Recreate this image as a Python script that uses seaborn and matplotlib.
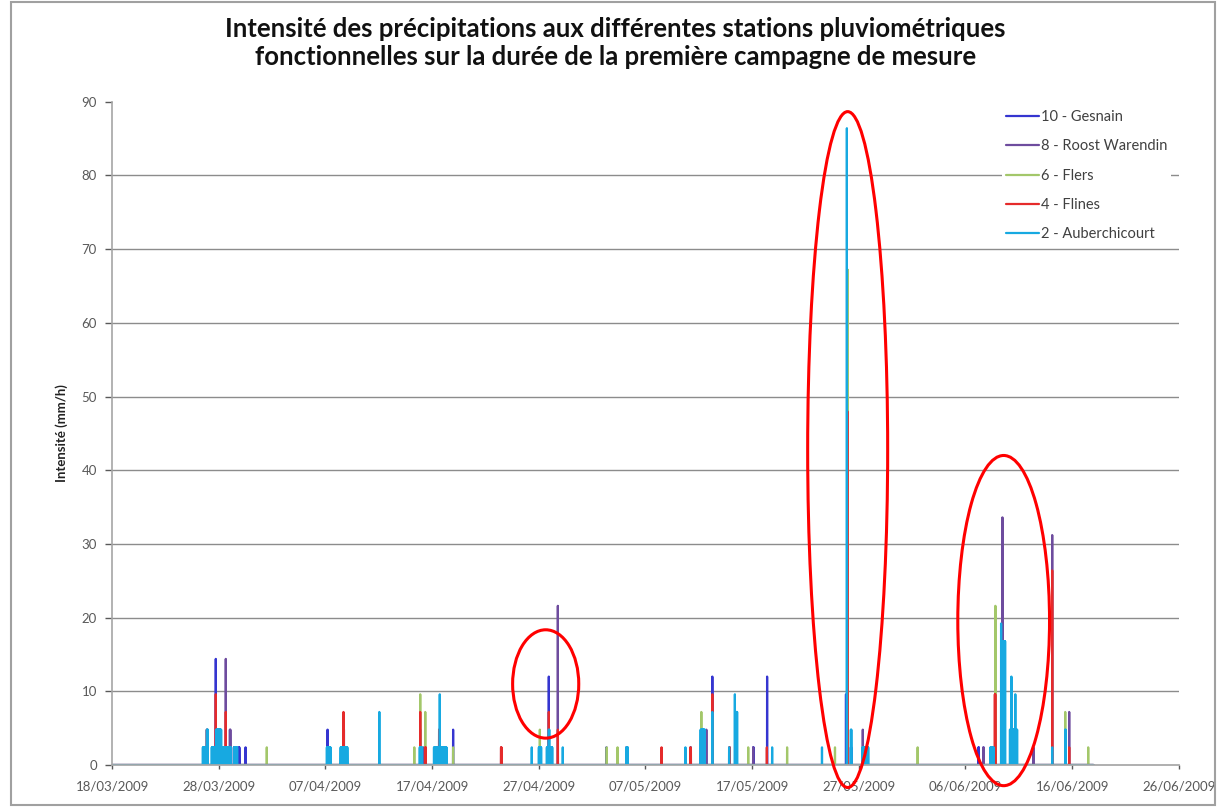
import numpy as np
import pandas as pd
import matplotlib
matplotlib.use("Agg")
import matplotlib.pyplot as plt
import matplotlib.dates as mdates
from matplotlib.patches import Ellipse, Rectangle
from matplotlib.lines import Line2D
import seaborn as sns

# ---------------- data ----------------
stations = ["10 - Gesnain", "8 - Roost Warendin", "6 - Flers", "4 - Flines", "2 - Auberchicourt"]

gesnain_time = ["2009-03-26 14:00", "2009-03-27 17:00", "2009-03-29 10:00", "2009-03-29 21:00", "2009-03-30 12:00",
                "2009-04-07 04:30", "2009-04-08 16:00", "2009-04-15 21:00", "2009-04-17 15:30", "2009-04-18 23:00",
                "2009-04-27 22:20", "2009-05-03 08:00", "2009-05-05 05:00", "2009-05-12 08:00", "2009-05-13 06:15",
                "2009-05-17 02:10", "2009-05-18 09:30", "2009-05-25 19:00", "2009-05-26 06:00", "2009-05-27 12:00",
                "2009-06-07 05:00", "2009-06-07 16:20", "2009-06-08 10:00", "2009-06-10 10:00"]
gesnain_val = [2.4, 14.4, 2.4, 2.4, 2.4, 4.8, 2.4, 4.8, 4.8, 4.8, 12.0, 2.4, 2.4, 2.4, 12.0,
               2.4, 12.0, 9.6, 2.4, 2.4, 2.4, 2.4, 2.4, 4.8]
gesnain_dur = [2, 1, 2, 2, 1, 1, 1, 1, 1, 1, 1, 1, 2, 1, 1, 2, 1, 1, 2, 2, 2, 1, 1, 2]

roost_time = ["2009-03-26 21:00", "2009-03-28 15:30", "2009-03-29 00:45", "2009-03-29 10:00", "2009-04-07 08:00",
              "2009-04-08 16:20", "2009-04-16 04:00", "2009-04-17 12:00", "2009-04-23 11:00", "2009-04-28 18:40",
              "2009-05-05 05:00", "2009-05-11 05:00", "2009-05-12 16:50", "2009-05-14 20:30", "2009-05-17 02:10",
              "2009-05-25 22:30", "2009-05-27 08:50", "2009-06-07 16:20", "2009-06-09 11:00", "2009-06-12 08:40",
              "2009-06-14 03:00", "2009-06-15 17:15"]
roost_val = [4.8, 14.4, 4.8, 2.4, 2.4, 4.8, 2.4, 2.4, 2.4, 21.6, 2.4, 2.4, 4.8, 2.4, 2.4,
             38.4, 4.8, 2.4, 33.6, 2.4, 31.2, 7.2]
roost_dur = [1, 1, 2, 1, 1, 2, 1, 1, 1, 1, 1, 2, 1, 2, 1, 1, 1, 1, 1, 1, 1, 1]

flers_time = ["2009-03-28 20:00", "2009-04-01 11:45", "2009-04-15 07:40", "2009-04-15 21:00", "2009-04-16 08:20",
              "2009-04-18 23:00", "2009-04-27 02:10", "2009-05-03 08:40", "2009-05-04 09:00", "2009-05-12 05:30",
              "2009-05-16 15:00", "2009-05-20 06:30", "2009-05-24 18:15", "2009-05-25 23:00", "2009-06-01 12:15",
              "2009-06-08 19:10", "2009-06-15 08:20", "2009-06-17 12:00"]
flers_val = [2.4, 2.4, 2.4, 9.6, 7.2, 2.4, 4.8, 2.4, 2.4, 7.2, 2.4, 2.4, 2.4, 67.2, 2.4, 21.6, 7.2, 2.4]
flers_dur = [1] * 18

flines_time = ["2009-03-26 14:00", "2009-03-26 21:00", "2009-03-27 17:00", "2009-03-28 15:30", "2009-04-08 16:20",
               "2009-04-15 21:00", "2009-04-16 08:20", "2009-04-17 15:30", "2009-04-23 10:50", "2009-04-27 22:20",
               "2009-04-28 18:40", "2009-05-08 12:00", "2009-05-11 05:00", "2009-05-13 06:15", "2009-05-14 21:00",
               "2009-05-18 09:00", "2009-05-25 22:00", "2009-06-08 18:00", "2009-06-14 03:00", "2009-06-15 17:15"]
flines_val = [2.4, 4.8, 9.6, 7.2, 7.2, 7.2, 2.4, 4.8, 2.4, 7.2, 4.8, 2.4, 2.4, 9.6, 2.4, 2.4, 48.0, 9.6, 26.4, 2.4]
flines_dur = [1, 1, 1, 1, 1, 1, 2, 1, 2, 1, 1, 1, 1, 1, 1, 1, 1, 2, 1, 1]

auber_time = ["2009-03-26 12:00", "2009-03-26 21:00", "2009-03-27 08:00", "2009-03-27 18:00", "2009-03-28 08:00",
              "2009-03-29 10:00", "2009-04-07 03:00", "2009-04-08 10:00", "2009-04-12 01:00", "2009-04-15 20:00",
              "2009-04-17 04:00", "2009-04-17 17:00", "2009-04-17 19:00", "2009-04-26 08:00", "2009-04-27 00:00",
              "2009-04-27 18:00", "2009-04-27 22:20", "2009-04-28 01:00", "2009-04-29 05:45", "2009-05-05 05:00",
              "2009-05-10 17:45", "2009-05-12 04:00", "2009-05-13 06:15", "2009-05-14 20:00", "2009-05-15 09:00",
              "2009-05-15 11:00", "2009-05-18 20:50", "2009-05-23 13:00", "2009-05-25 21:00", "2009-05-26 06:00",
              "2009-05-27 08:00", "2009-06-08 08:00", "2009-06-09 08:00", "2009-06-09 10:00", "2009-06-10 04:00",
              "2009-06-10 07:10", "2009-06-10 09:00", "2009-06-10 16:00", "2009-06-10 18:00", "2009-06-14 03:00",
              "2009-06-15 08:20"]
auber_val = [2.4, 4.8, 2.4, 4.8, 2.4, 2.4, 2.4, 2.4, 7.2, 2.4,
             2.4, 9.6, 2.4, 2.4, 2.4, 2.4, 4.8, 2.4, 2.4, 2.4,
             2.4, 4.8, 7.2, 2.4, 9.6, 7.2, 2.4, 2.4, 86.4, 4.8,
             2.4, 2.4, 19.2, 16.8, 4.8, 12.0, 4.8, 9.6, 4.8, 2.4, 4.8]
auber_dur = [6, 3, 10, 12, 20, 8, 9, 16, 1, 6,
             12, 1, 14, 1, 6, 4, 2, 6, 1, 4,
             1, 10, 1, 1, 1, 4, 1, 1, 1, 2,
             14, 8, 1, 8, 3, 1, 6, 1, 3, 1, 2]

series_start = "2009-03-18 00:00"
series_end = "2009-06-18 00:00"

xtick_dates = ["2009-03-18", "2009-03-28", "2009-04-07", "2009-04-17", "2009-04-27", "2009-05-07",
               "2009-05-17", "2009-05-27", "2009-06-06", "2009-06-16", "2009-06-26"]
yticks = [0, 10, 20, 30, 40, 50, 60, 70, 80, 90]

title = ("Intensité des précipitations aux différentes stations pluviométriques\n"
         "fonctionnelles sur la durée de la première campagne de mesure")
ylabel = "Intensité (mm/h)"

# annotation ellipses (center date, center value, width days, height value)
ell_center_t = ["2009-04-27 15:30", "2009-05-25 23:00", "2009-06-09 14:00"]
ell_center_v = [11.0, 42.8, 19.6]
ell_width_d = [6.2, 7.5, 8.6]
ell_height_v = [14.7, 91.7, 44.8]

colors = ["#3535D0", "#6E4C9E", "#A3C76A", "#E52B2B", "#17A9E1"]

# ---------------- build tidy frame (hourly records) ----------------
raw = {
    stations[0]: (gesnain_time, gesnain_val, gesnain_dur),
    stations[1]: (roost_time, roost_val, roost_dur),
    stations[2]: (flers_time, flers_val, flers_dur),
    stations[3]: (flines_time, flines_val, flines_dur),
    stations[4]: (auber_time, auber_val, auber_dur),
}
step = pd.Timedelta(minutes=12)
hour = pd.Timedelta(hours=1)
rows = []
for st, (tt, vv, dd) in raw.items():
    ev = sorted(zip(pd.to_datetime(tt), vv, dd))
    rows.append((st, pd.Timestamp(series_start), 0.0))
    for t, v, d in ev:
        for k in range(int(d)):
            tk = t + k * hour
            rows.append((st, tk, 0.0))
            rows.append((st, tk + step, v))
            rows.append((st, tk + 2 * step, 0.0))
    rows.append((st, pd.Timestamp(series_end), 0.0))
df = pd.DataFrame(rows, columns=["station", "time", "value"])

# ---------------- plot ----------------
sns.set_theme(style="white")
plt.rcParams["font.family"] = ["Lato", "DejaVu Sans"]

fig = plt.figure(figsize=(12.19, 8.07), dpi=100)
ax = fig.add_axes([0.092, 0.052, 0.875, 0.822])

for y in yticks[1:-1]:
    ax.axhline(y, color="#8C8C8C", lw=1.0, zorder=0)

sns.lineplot(data=df, x="time", y="value", hue="station", hue_order=stations,
             palette=colors, estimator=None, sort=False, linewidth=1.6,
             legend=False, ax=ax, zorder=2)

ax.set_xlim(pd.Timestamp(xtick_dates[0]), pd.Timestamp(xtick_dates[-1]))
ax.set_ylim(0, 90)
ax.set_yticks(yticks)
ax.set_xticks(pd.to_datetime(xtick_dates))
ax.xaxis.set_major_formatter(mdates.DateFormatter("%d/%m/%Y"))
ax.tick_params(axis="both", labelsize=9.5, colors="#595959", length=5, width=1,
               direction="out", left=True, bottom=True)
ax.tick_params(axis="x", length=3, pad=8)
ax.tick_params(axis="y", pad=6)
ax.set_xlabel("")
ax.set_ylabel(ylabel, fontsize=9.5, fontweight="bold", color="#222222", labelpad=10)

for s in ["top", "right"]:
    ax.spines[s].set_visible(False)
ax.spines["left"].set_color("#A6A6A6")
ax.spines["bottom"].set_color("#A6A6A6")
ax.spines["left"].set_linewidth(1.2)

fig.text(0.505, 0.947, title, fontsize=18.5, fontweight="bold", color="#111111",
         ha="center", va="center", linespacing=1.2)

handles = [Line2D([0], [0], color=c, lw=1.6) for c in colors]
leg = ax.legend(handles, stations, loc="upper right", bbox_to_anchor=(1.0, 1.005),
                fontsize=10.5, frameon=True, handlelength=2.2, handletextpad=0.15,
                labelspacing=1.05, borderpad=0.3)
leg.get_frame().set_facecolor("white")
leg.get_frame().set_edgecolor("none")
leg.get_frame().set_alpha(1.0)
for t in leg.get_texts():
    t.set_color("#404040")

for ct, cv, w, h in zip(ell_center_t, ell_center_v, ell_width_d, ell_height_v):
    e = Ellipse((mdates.date2num(pd.Timestamp(ct)), cv), w, h, fill=False,
                edgecolor="#FF0000", lw=2.2, clip_on=False, zorder=5)
    ax.add_patch(e)

fig.patches.append(Rectangle((0.009, 0.002), 0.988, 0.996, transform=fig.transFigure,
                             fill=False, edgecolor="#A0A0A0", lw=1.5))

fig.savefig("out.png", dpi=100)
